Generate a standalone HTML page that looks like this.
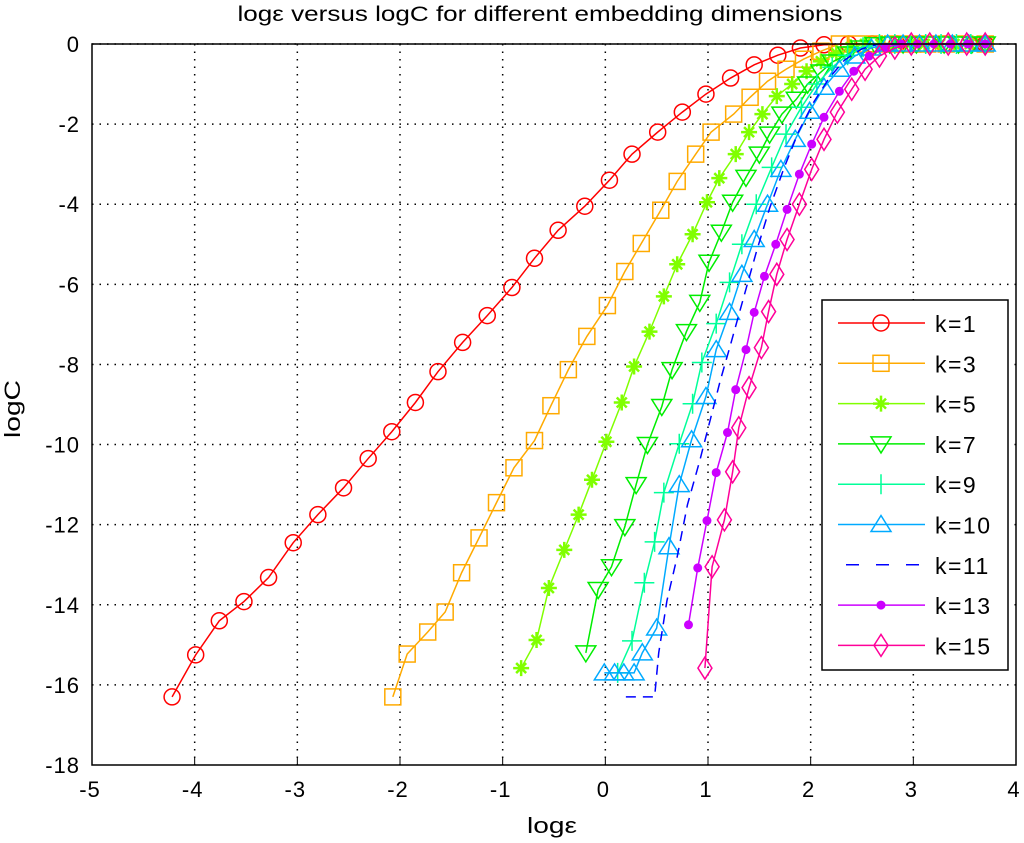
<!DOCTYPE html>
<html><head><meta charset="utf-8"><style>
html,body{margin:0;padding:0;background:#fff;}
svg{display:block;font-family:"Liberation Sans",sans-serif;}
</style></head><body>
<svg id="chart" width="1024" height="843" viewBox="0 0 1024 843" xmlns="http://www.w3.org/2000/svg">
<rect width="1024" height="843" fill="#fff"/>
<g id="grid"></g>
<g id="series"></g>
<rect x="92" y="44" width="924" height="721" fill="none" stroke="#000" stroke-width="1.5"/>
<g id="ticks"></g>
<text x="540" y="21" font-size="21" text-anchor="middle" textLength="605" lengthAdjust="spacingAndGlyphs">logε versus logC for different embedding dimensions</text>
<text x="552" y="833" font-size="22" text-anchor="middle" textLength="50" lengthAdjust="spacingAndGlyphs">logε</text>
<text transform="translate(20,409) rotate(-90)" font-size="22" text-anchor="middle" textLength="58" lengthAdjust="spacingAndGlyphs">logC</text>
<g id="legend"></g>
</svg>
<script>
const xTicks=[-5,-4,-3,-2,-1,0,1,2,3,4];
const yTicks=[0,-2,-4,-6,-8,-10,-12,-14,-16,-18];
const labels=["k=1","k=3","k=5","k=7","k=9","k=10","k=11","k=13","k=15"];
const colors=["#ff0000","#ffaa00","#80ff00","#00ee00","#00ff99","#00aaff","#0000ff","#cc00ff","#ff0099"];
const markers=["circle","square","star","tridown","plus","triup","none","dot","diamond"];
const x1=[-4.22,-3.99,-3.76,-3.52,-3.28,-3.04,-2.80,-2.55,-2.31,-2.08,-1.85,-1.63,-1.39,-1.15,-0.91,-0.69,-0.46,-0.20,0.04,0.26,0.51,0.75,0.98,1.22,1.45,1.68,1.90,2.13,2.37,2.60,2.84,3.07,3.30,3.54,3.70];
const y1=[-16.3,-15.25,-14.4,-13.92,-13.32,-12.45,-11.75,-11.08,-10.35,-9.68,-8.95,-8.18,-7.45,-6.78,-6.08,-5.35,-4.65,-4.05,-3.4,-2.75,-2.2,-1.7,-1.25,-0.85,-0.52,-0.28,-0.1,-0.02,0,0,0,0,0,0,0];
const x3=[-2.07,-1.93,-1.73,-1.56,-1.40,-1.23,-1.06,-0.89,-0.69,-0.53,-0.36,-0.18,0.02,0.19,0.35,0.54,0.70,0.88,1.03,1.25,1.41,1.58,1.76,1.93,2.10,2.28,2.45,2.62,2.80,2.97,3.14,3.32,3.50,3.70];
const y3=[-16.3,-15.23,-14.68,-14.18,-13.2,-12.33,-11.45,-10.58,-9.9,-9.03,-8.13,-7.3,-6.53,-5.68,-4.98,-4.15,-3.43,-2.75,-2.2,-1.75,-1.33,-0.93,-0.63,-0.38,-0.18,0,0,0,0,0,0,0,0,0];
const x5=[-0.82,-0.67,-0.55,-0.40,-0.26,-0.13,0.01,0.16,0.28,0.43,0.57,0.70,0.85,0.99,1.11,1.27,1.40,1.53,1.67,1.82,1.96,2.10,2.25,2.39,2.53,2.68,2.82,2.97,3.11,3.26,3.40,3.55,3.70];
const y5=[-15.58,-14.88,-13.58,-12.63,-11.75,-10.88,-9.93,-8.95,-8.05,-7.18,-6.3,-5.5,-4.75,-3.95,-3.35,-2.75,-2.2,-1.75,-1.3,-1.0,-0.68,-0.43,-0.23,-0.08,0,0,0,0,0,0,0,0,0];
const x7=[-0.19,-0.07,0.06,0.19,0.30,0.41,0.55,0.65,0.79,0.92,1.01,1.13,1.24,1.37,1.50,1.60,1.72,1.86,1.97,2.10,2.21,2.36,2.49,2.63,2.77,2.90,3.03,3.17,3.30,3.44,3.57,3.70];
const y7=[-15.2,-13.62,-13.05,-12.05,-11.0,-10.0,-9.05,-8.13,-7.18,-6.45,-5.45,-4.7,-3.95,-3.33,-2.75,-2.25,-1.75,-1.38,-1.0,-0.7,-0.45,-0.25,-0.1,-0.02,0,0,0,0,0,0,0,0];
const x9=[0.12,0.26,0.38,0.48,0.57,0.72,0.85,0.94,1.08,1.21,1.33,1.47,1.62,1.76,1.91,2.06,2.21,2.36,2.51,2.67,2.82,2.97,3.12,3.27,3.42,3.56,3.70];
const y9=[-15.7,-14.9,-13.45,-12.43,-11.2,-9.98,-8.98,-7.95,-6.98,-5.95,-5.0,-4.0,-3.08,-2.25,-1.58,-1.0,-0.58,-0.28,-0.08,0,0,0,0,0,0,0,0];
const x10=[-0.01,0.09,0.18,0.28,0.36,0.50,0.62,0.72,0.84,0.98,1.08,1.21,1.33,1.45,1.58,1.71,1.85,1.99,2.13,2.28,2.43,2.59,2.75,2.90,3.06,3.22,3.38,3.54,3.70];
const y10=[-15.7,-15.7,-15.7,-15.7,-15.2,-14.58,-12.55,-11.0,-9.88,-8.8,-7.63,-6.7,-5.75,-4.88,-4.0,-3.13,-2.38,-1.68,-1.08,-0.63,-0.3,-0.1,0,0,0,0,0,0,0];
const x11=[0.2,0.48,0.52,0.6,0.7,0.8,0.92,1.02,1.12,1.22,1.35,1.47,1.6,1.74,1.88,2.03,2.18,2.33,2.5,2.66,3.7];
const y11=[-16.3,-16.3,-15.2,-13.9,-12.8,-11.5,-10.4,-9.4,-8.4,-7.5,-6.3,-5.2,-4.1,-3.1,-2.2,-1.45,-0.85,-0.4,-0.12,0,0];
const x13=[0.81,0.90,0.99,1.08,1.19,1.27,1.37,1.45,1.55,1.66,1.77,1.89,2.01,2.13,2.28,2.42,2.57,2.73,2.88,3.04,3.20,3.36,3.53,3.70];
const y13=[-14.5,-13.08,-11.9,-10.7,-9.7,-8.63,-7.63,-6.7,-5.8,-5.0,-4.13,-3.25,-2.5,-1.83,-1.18,-0.68,-0.3,-0.08,0,0,0,0,0,0];
const x15=[0.97,1.04,1.16,1.24,1.30,1.40,1.52,1.59,1.67,1.77,1.89,2.01,2.13,2.26,2.40,2.53,2.67,2.82,2.98,3.16,3.34,3.52,3.70];
const y15=[-15.58,-13.05,-11.88,-10.68,-9.58,-8.58,-7.58,-6.68,-5.75,-4.88,-4.0,-3.13,-2.38,-1.7,-1.13,-0.63,-0.3,-0.1,0,0,0,0,0];
const xs=[x1,x3,x5,x7,x9,x10,x11,x13,x15];
const ys=[y1,y3,y5,y7,y9,y10,y11,y13,y15];

const NS="http://www.w3.org/2000/svg";
const L=92,R=1016,T=44,B=765;
function sx(v){return L+(v+5)/9*(R-L);}
function sy(v){return T+(0-v)/18*(B-T);}
function mk(tag,attrs,parent){const e=document.createElementNS(NS,tag);for(const k in attrs)e.setAttribute(k,attrs[k]);parent.appendChild(e);return e;}
const grid=document.getElementById('grid'),ticks=document.getElementById('ticks');
xTicks.forEach(t=>{
  const x=sx(t);
  if(t>-5&&t<4){const g=mk('line',{x1:x,y1:T,x2:x,y2:B,stroke:'#000','stroke-width':1.5,'stroke-dasharray':'1.5 6'},grid);
  
  }
  const a=mk('line',{x1:x,y1:B,x2:x,y2:B-7,stroke:'#000'},ticks);
  
  
  const tx=mk('text',{x:x-2,y:B+32,'font-size':22,'text-anchor':'middle','letter-spacing':1},ticks);tx.textContent=t;
  
  
});
yTicks.forEach(t=>{
  const y=sy(t);
  if(t<=0&&t>-18){const g=mk('line',{x1:L,y1:y,x2:R,y2:y,stroke:'#000','stroke-width':1.5,'stroke-dasharray':'1.5 6'},grid);
  
  }
  const tx=mk('text',{x:L-12,y:y+8,'font-size':22,'text-anchor':'end','letter-spacing':1},ticks);tx.textContent=t;
  
  
});
function marker(type,x,y,c,parent){
  const s={fill:'none',stroke:c,'stroke-width':1.5};
  let e;
  if(type=='circle')e=mk('circle',Object.assign({cx:x,cy:y,r:8},s),parent);
  else if(type=='square')e=mk('rect',Object.assign({x:x-8,y:y-8,width:16,height:16},s),parent);
  else if(type=='star')e=mk('path',Object.assign({d:`M${x-8} ${y}H${x+8}M${x} ${y-8}V${y+8}M${x-5} ${y-5}L${x+5} ${y+5}M${x-5} ${y+5}L${x+5} ${y-5}`},s,{'stroke-width':2.5}),parent);
  else if(type=='tridown')e=mk('path',Object.assign({d:`M${x-10} ${y-7}H${x+10}L${x} ${y+9}Z`},s),parent);
  else if(type=='triup')e=mk('path',Object.assign({d:`M${x-10} ${y+7}H${x+10}L${x} ${y-9}Z`},s),parent);
  else if(type=='plus')e=mk('path',Object.assign({d:`M${x-10} ${y}H${x+10}M${x} ${y-10}V${y+10}`},s),parent);
  else if(type=='dot')e=mk('circle',{cx:x,cy:y,r:4,fill:c,stroke:c},parent);
  else if(type=='diamond')e=mk('path',Object.assign({d:`M${x} ${y-11}L${x+7} ${y}L${x} ${y+11}L${x-7} ${y}Z`},s),parent);
  return e;
}
const sg=document.getElementById('series');
xs.forEach((xa,i)=>{
  const g=mk('g',{},sg);
  
  
  const pts=xa.map((v,j)=>sx(v)+','+sy(ys[i][j])).join(' ');
  const pl=mk('polyline',{points:pts,fill:'none',stroke:colors[i],'stroke-width':1.5},g);
  if(markers[i]=='none')pl.setAttribute('stroke-dasharray','10 7');
  
  
  if(markers[i]!='none')xa.forEach((v,j)=>{
    const m=marker(markers[i],sx(v),sy(ys[i][j]),colors[i],g);
    
    
  });
});
const lg=document.getElementById('legend');
const box=mk('rect',{x:822,y:300,width:186,height:370,fill:'#fff',stroke:'#000','stroke-width':1.5},lg);


labels.forEach((lab,i)=>{
  const y=323+i*40.3;
  const g=mk('g',{},lg);
  
  
  const ln=mk('line',{x1:838,y1:y,x2:925,y2:y,stroke:colors[i],'stroke-width':1.5},g);
  if(markers[i]=='none'){ln.setAttribute('x1',846);ln.setAttribute('stroke-dasharray','13 17');}
  if(markers[i]!='none')marker(markers[i],881,y,colors[i],g);
  const t=mk('text',{x:935,y:y+9,'font-size':23,'letter-spacing':1.5},g);t.textContent=lab;
});
</script>
</body></html>
